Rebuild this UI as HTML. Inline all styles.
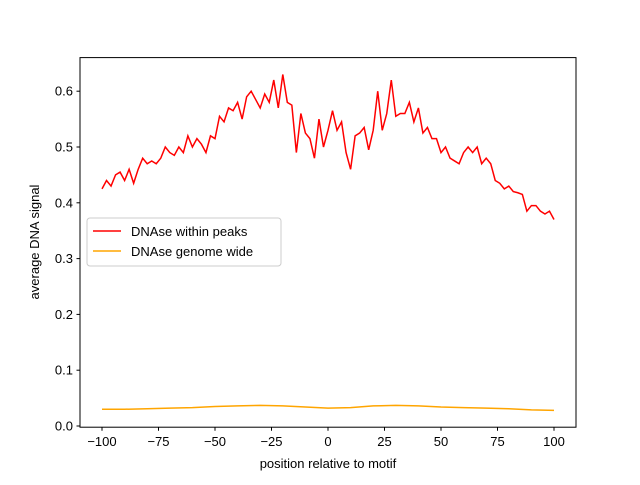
<!DOCTYPE html>
<html><head><meta charset="utf-8"><style>
body{margin:0;background:#fff}
svg text{font-family:"Liberation Sans","DejaVu Sans",sans-serif;font-size:13px;fill:#000}
</style></head><body>
<svg id="chart" width="640" height="480">
<rect x="0" y="0" width="640" height="480" fill="#fff"/>
<g id="plot"></g>
<rect x="80" y="57.6" width="496" height="369.6" fill="none" stroke="#000" stroke-width="1"/>
<g id="axes"></g>
<text x="328" y="468" text-anchor="middle">position relative to motif</text>
<text transform="translate(39,242) rotate(-90)" text-anchor="middle">average DNA signal</text>
<g>
<rect x="87" y="218" width="194" height="48" rx="3" fill="#fff" fill-opacity="0.8" stroke="#ccc"/>
<g>
<line x1="93" y1="231" x2="121" y2="231" stroke="#ff0000" stroke-width="1.5"/>
<text x="131" y="236">DNAse within peaks</text></g>
<g>
<line x1="93" y1="251" x2="121" y2="251" stroke="#ffa500" stroke-width="1.5"/>
<text x="131" y="256">DNAse genome wide</text></g>
</g>
</svg>
<script>
const positions=[];for(let p=-100;p<=100;p+=2)positions.push(p);
const peakValues=[0.425,0.44,0.43,0.45,0.455,0.44,0.46,0.435,0.46,0.48,0.47,0.475,0.47,0.48,0.5,0.49,0.485,0.5,0.49,0.52,0.5,0.515,0.505,0.49,0.52,0.515,0.555,0.545,0.57,0.565,0.58,0.55,0.59,0.6,0.585,0.57,0.595,0.58,0.62,0.57,0.63,0.58,0.575,0.49,0.56,0.525,0.515,0.48,0.55,0.5,0.53,0.565,0.53,0.545,0.49,0.46,0.52,0.525,0.535,0.495,0.53,0.6,0.53,0.56,0.62,0.555,0.56,0.56,0.58,0.545,0.57,0.525,0.535,0.515,0.515,0.49,0.5,0.48,0.475,0.47,0.49,0.5,0.49,0.5,0.47,0.48,0.47,0.44,0.435,0.425,0.43,0.42,0.418,0.415,0.385,0.395,0.395,0.385,0.38,0.385,0.37];
const genomePositions=[-100,-90,-80,-70,-60,-50,-40,-30,-20,-10,0,10,20,30,40,50,60,70,80,90,100];
const genomeValues=[0.03,0.03,0.031,0.032,0.033,0.035,0.036,0.037,0.036,0.034,0.032,0.033,0.036,0.037,0.036,0.034,0.033,0.032,0.031,0.029,0.028];
const xTicks=[-100,-75,-50,-25,0,25,50,75,100];
const yTicks=[0.0,0.1,0.2,0.3,0.4,0.5,0.6];
const xs=v=>328+v*2.26, ys=v=>426-v*558;
const NS="http://www.w3.org/2000/svg";
const plot=document.getElementById('plot'), axes=document.getElementById('axes');
function mk(t,a,par){const e=document.createElementNS(NS,t);for(const k in a)e.setAttribute(k,a[k]);par.appendChild(e);return e;}
const l1=mk('polyline',{points:positions.map((p,i)=>xs(p)+','+ys(peakValues[i])).join(' '),fill:'none',stroke:'#ff0000','stroke-width':1.5},plot);


const l2=mk('polyline',{points:genomePositions.map((p,i)=>xs(p)+','+ys(genomeValues[i])).join(' '),fill:'none',stroke:'#ffa500','stroke-width':1.5},plot);


xTicks.forEach(t=>{const x=xs(t);
const tk=mk('line',{x1:x,y1:427.2,x2:x,y2:430.7,stroke:'#000'},axes);


const tx=mk('text',{x:x,y:446,'text-anchor':'middle'},axes);tx.textContent=String(t).replace('-','−');

});
yTicks.forEach(t=>{const y=ys(t);
const tk=mk('line',{x1:76.5,y1:y,x2:80,y2:y,stroke:'#000'},axes);


const tx=mk('text',{x:73,y:y+4.5,'text-anchor':'end'},axes);tx.textContent=t.toFixed(1);

});
</script>
</body></html>
